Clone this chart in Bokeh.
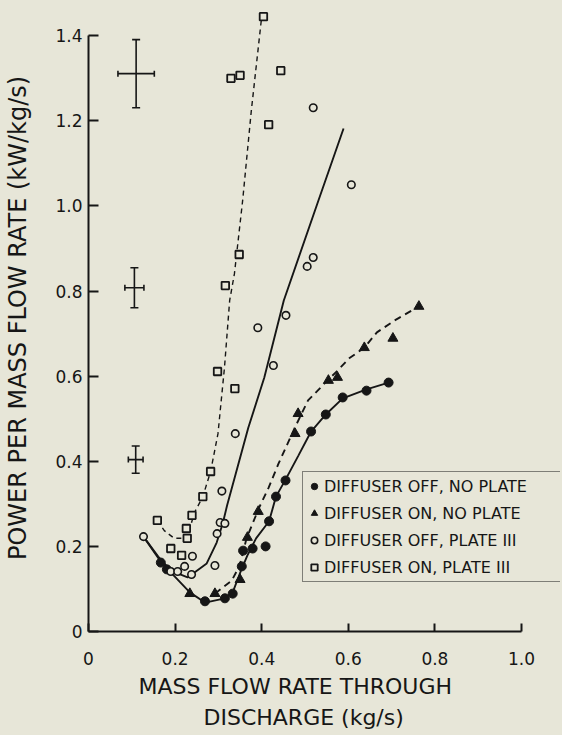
from bokeh.plotting import figure
from bokeh.models import (Range1d, FixedTicker, CustomJSTickFormatter, Legend, LegendItem,
                          Whisker, TeeHead, ColumnDataSource, Title)
from bokeh.embed import file_html
from bokeh.resources import INLINE

BG = "#e7e6d8"
INK = "#161616"
FONT = "DejaVu Sans"

# ---------------- data ----------------
# DIFFUSER OFF, NO PLATE (filled circles)
off_np_x = [0.167, 0.181, 0.269, 0.315, 0.333, 0.354, 0.357, 0.379, 0.409, 0.417, 0.433,
            0.455, 0.514, 0.548, 0.587, 0.642, 0.693]
off_np_y = [0.162, 0.146, 0.071, 0.078, 0.089, 0.153, 0.190, 0.195, 0.200, 0.259, 0.317,
            0.355, 0.470, 0.510, 0.550, 0.566, 0.585]
# DIFFUSER ON, NO PLATE (filled triangles)
on_np_x = [0.234, 0.292, 0.350, 0.367, 0.392, 0.477, 0.484, 0.554, 0.575, 0.637, 0.703, 0.763]
on_np_y = [0.089, 0.089, 0.122, 0.221, 0.282, 0.465, 0.512, 0.590, 0.597, 0.667, 0.689, 0.764]
# DIFFUSER OFF, PLATE III (open circles)
off_p_x = [0.127, 0.190, 0.206, 0.222, 0.238, 0.240, 0.292, 0.297, 0.304, 0.315, 0.308,
           0.339, 0.391, 0.427, 0.456, 0.505, 0.519, 0.519, 0.607]
off_p_y = [0.223, 0.141, 0.141, 0.153, 0.134, 0.177, 0.155, 0.230, 0.256, 0.254, 0.330,
           0.465, 0.714, 0.625, 0.743, 0.858, 0.879, 1.231, 1.050]
# DIFFUSER ON, PLATE III (open squares)
on_p_x = [0.159, 0.190, 0.215, 0.228, 0.226, 0.239, 0.264, 0.282, 0.298, 0.338, 0.316,
          0.348, 0.416, 0.329, 0.350, 0.444, 0.404]
on_p_y = [0.261, 0.195, 0.179, 0.219, 0.242, 0.273, 0.317, 0.376, 0.611, 0.571, 0.813,
          0.886, 1.191, 1.300, 1.307, 1.318, 1.445]

# hand-drawn fitted curves
fit_off_np_x = [0.127, 0.165, 0.190, 0.234, 0.269, 0.315, 0.333, 0.354, 0.368, 0.387, 0.417,
                0.433, 0.455, 0.485, 0.514, 0.548, 0.587, 0.642, 0.693]
fit_off_np_y = [0.223, 0.167, 0.139, 0.092, 0.068, 0.078, 0.092, 0.148, 0.181, 0.219, 0.259,
                0.317, 0.357, 0.414, 0.470, 0.510, 0.548, 0.569, 0.585]
fit_on_np_x = [0.292, 0.331, 0.349, 0.365, 0.394, 0.416, 0.439, 0.477, 0.507, 0.550, 0.575,
               0.602, 0.637, 0.666, 0.707, 0.763]
fit_on_np_y = [0.089, 0.120, 0.155, 0.219, 0.291, 0.338, 0.395, 0.480, 0.543, 0.588, 0.613,
               0.642, 0.667, 0.703, 0.731, 0.764]
fit_off_p_x = [0.127, 0.161, 0.190, 0.229, 0.273, 0.296, 0.310, 0.320, 0.340, 0.369, 0.406,
               0.451, 0.531, 0.589]
fit_off_p_y = [0.223, 0.176, 0.143, 0.127, 0.160, 0.209, 0.254, 0.296, 0.371, 0.479, 0.597,
               0.778, 1.013, 1.182]
fit_on_p_x = [0.159, 0.175, 0.198, 0.228, 0.235, 0.244, 0.264, 0.282, 0.299, 0.314, 0.326,
              0.337, 0.356, 0.376, 0.399]
fit_on_p_y = [0.261, 0.237, 0.219, 0.219, 0.245, 0.278, 0.317, 0.376, 0.465, 0.620, 0.778,
              0.841, 1.013, 1.224, 1.436]

# error-bar crosses
err_x = [0.110, 0.106, 0.109]
err_y = [1.311, 0.808, 0.404]
err_dx = [0.042, 0.022, 0.017]
err_dy = [0.080, 0.047, 0.032]

x_ticks = [0, 0.2, 0.4, 0.6, 0.8, 1.0]
y_ticks = [0, 0.2, 0.4, 0.6, 0.8, 1.0, 1.2, 1.4]

legend_labels = ["DIFFUSER OFF, NO PLATE", "DIFFUSER ON, NO PLATE",
                 "DIFFUSER OFF, PLATE III", "DIFFUSER ON, PLATE III"]
x_title_lines = ["MASS FLOW RATE THROUGH", "DISCHARGE (kg/s)"]
y_title = "POWER PER MASS FLOW RATE (kW/kg/s)"

# ---------------- figure ----------------
p = figure(width=562, height=735, x_range=Range1d(0, 1.090), y_range=Range1d(0, 1.4735),
           output_backend="svg", toolbar_location=None,
           min_border_left=88, min_border_right=2, min_border_top=4, min_border_bottom=104)
p.background_fill_color = BG
p.border_fill_color = BG
p.outline_line_color = None
p.grid.visible = False

fmt = CustomJSTickFormatter(code="return tick == 0 ? '0' : tick.toFixed(1);")
for ax, ticks, bounds, tin in ((p.xaxis[0], x_ticks, (0, 1.0), 8), (p.yaxis[0], y_ticks, (0, 1.4), 10)):
    ax.ticker = FixedTicker(ticks=ticks)
    ax.formatter = fmt
    ax.bounds = bounds
    ax.axis_line_color = INK
    ax.axis_line_width = 2
    ax.major_tick_line_color = INK
    ax.major_tick_line_width = 2
    ax.major_tick_in = tin
    ax.major_tick_out = 0
    ax.minor_tick_line_color = None
    ax.major_label_text_font = FONT
    ax.major_label_text_font_size = "17px"
    ax.major_label_text_color = INK

p.xaxis.major_label_standoff = 20
p.yaxis.major_label_standoff = 6
p.yaxis.axis_label = y_title
p.yaxis.axis_label_text_font = FONT
p.yaxis.axis_label_text_font_size = "24px"
p.yaxis.axis_label_text_font_style = "normal"
p.yaxis.axis_label_text_color = INK
p.yaxis.axis_label_standoff = 20

# fitted curves
p.line(fit_off_np_x, fit_off_np_y, line_color=INK, line_width=1.9)
p.line(fit_off_p_x, fit_off_p_y, line_color=INK, line_width=1.9)
p.line(fit_on_np_x, fit_on_np_y, line_color=INK, line_width=1.9, line_dash="7 5")
p.line(fit_on_p_x, fit_on_p_y, line_color=INK, line_width=1.4, line_dash="5 4")

# data points
r1 = p.scatter(off_np_x, off_np_y, marker="circle", size=9, fill_color=INK, line_color=INK)
r2 = p.scatter(on_np_x, on_np_y, marker="triangle", size=10, fill_color=INK, line_color=INK)
r3 = p.scatter(off_p_x, off_p_y, marker="circle", size=7.5, fill_color=BG, line_color=INK,
               line_width=1.6)
r4 = p.scatter(on_p_x, on_p_y, marker="square", size=7.5, fill_color=BG, line_color=INK,
               line_width=1.8)

# error crosses
esrc = ColumnDataSource(dict(
    x=err_x, y=err_y,
    yl=[y - d for y, d in zip(err_y, err_dy)], yu=[y + d for y, d in zip(err_y, err_dy)],
    xl=[x - d for x, d in zip(err_x, err_dx)], xu=[x + d for x, d in zip(err_x, err_dx)],
))
p.add_layout(Whisker(source=esrc, base="x", lower="yl", upper="yu", dimension="height",
                     line_color=INK, line_width=1.6,
                     lower_head=TeeHead(size=8, line_color=INK, line_width=1.6),
                     upper_head=TeeHead(size=8, line_color=INK, line_width=1.6)))
p.add_layout(Whisker(source=esrc, base="y", lower="xl", upper="xu", dimension="width",
                     line_color=INK, line_width=1.6,
                     lower_head=TeeHead(size=6, line_color=INK, line_width=1.6),
                     upper_head=TeeHead(size=6, line_color=INK, line_width=1.6)))

# legend
legend = Legend(items=[LegendItem(label=lbl, renderers=[r]) for lbl, r in
                       zip(legend_labels, [r1, r2, r3, r4])],
                location=(214, 49), padding=3, spacing=5, margin=0,
                glyph_width=16, glyph_height=22, label_height=22, label_width=234,
                label_standoff=2, label_text_font=FONT, label_text_font_size="16px",
                label_text_color=INK, border_line_color=INK, border_line_width=1.2,
                background_fill_color=BG, background_fill_alpha=1.0)
p.add_layout(legend)

# two-line x-axis title
p.add_layout(Title(text=x_title_lines[0], align="left", offset=50, standoff=8,
                   text_font=FONT, text_font_size="22px", text_font_style="normal",
                   text_color=INK), "below")
p.add_layout(Title(text=x_title_lines[1], align="left", offset=115, standoff=0,
                   text_font=FONT, text_font_size="22px", text_font_style="normal",
                   text_color=INK), "below")

html = file_html(p, INLINE)
html = html.replace("<head>", "<head><style>body{background-color:%s;}</style>" % BG, 1)
open("out.html", "w").write(html)
